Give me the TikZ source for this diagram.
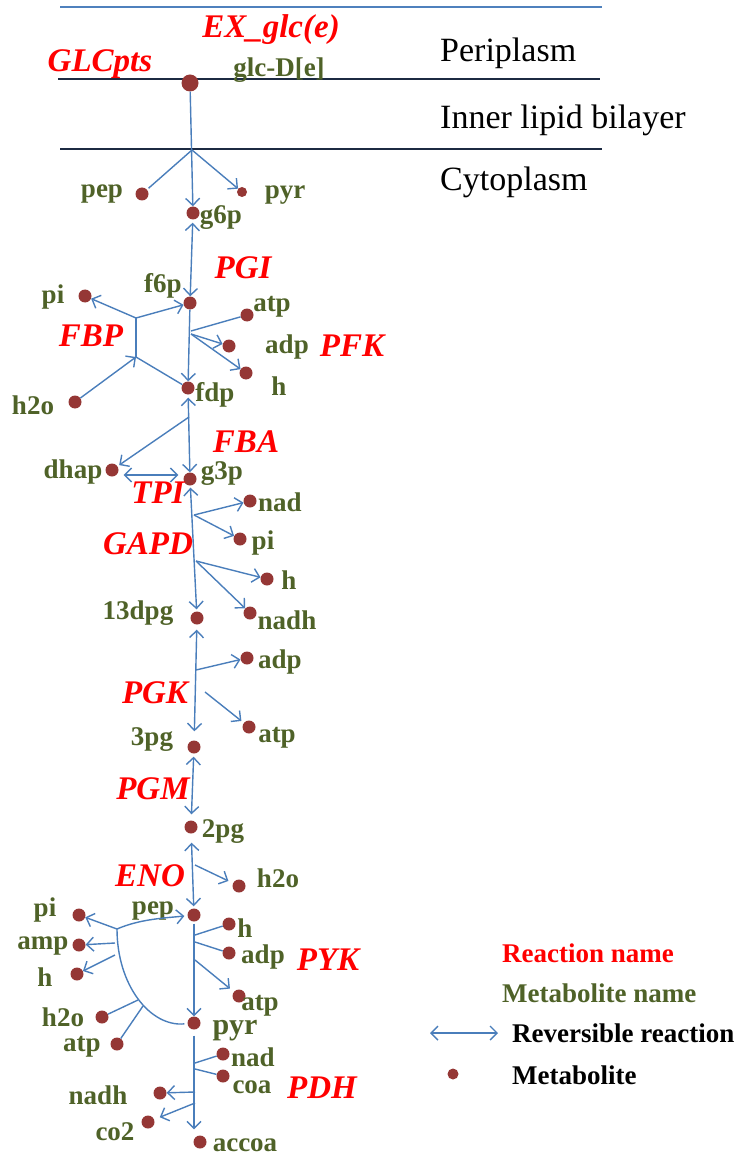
\documentclass[tikz,border=0pt]{standalone}
\usepackage{fontspec}
\setmainfont{Liberation Serif}
\usetikzlibrary{arrows.meta}
\definecolor{rxn}{RGB}{255,0,0}
\definecolor{met}{RGB}{79,98,40}
\definecolor{dotc}{RGB}{149,55,53}
\definecolor{arr}{RGB}{74,126,187}
\definecolor{memb}{RGB}{79,129,189}
\definecolor{membd}{RGB}{28,42,66}
\begin{document}
\begin{tikzpicture}[x=1pt,y=-1pt,
 mdot/.style={circle,fill=dotc,inner sep=0pt,minimum size=13pt},
 sdot/.style={mdot,minimum size=10pt},
 bdot/.style={mdot,minimum size=17pt},
 ldot/.style={mdot,minimum size=11pt},
 mname/.style={text=met,font=\fontsize{27}{27}\selectfont\bfseries,inner sep=0pt},
 rname/.style={text=rxn,font=\fontsize{33}{33}\selectfont\bfseries\itshape,inner sep=0pt},
 compname/.style={text=black,font=\fontsize{34}{34}\selectfont,inner sep=0pt,anchor=west},
 legtext/.style={font=\fontsize{27}{27}\selectfont\bfseries,inner sep=0pt,anchor=west},
 conn/.style={draw=arr,line width=1.4pt},
 fwd/.style={conn,-{Straight Barb[length=7pt,width=14pt]}},
 rev/.style={conn,{Straight Barb[length=7pt,width=14pt]}-{Straight Barb[length=7pt,width=14pt]}},
 membl/.style={line width=1.5pt}
]
\useasboundingbox (0,0) rectangle (741,1155);

% membranes
\draw[memb,membl] (60,7) -- (602,7);
\draw[membd,membl] (58,79) -- (600,79);
\draw[membd,membl] (60,149) -- (602,149);
\node[compname] (peri) at (440,53) {Periplasm};
\node[compname] (inner) at (440,120) {Inner lipid bilayer};
\node[compname] (cyto) at (440,182) {Cytoplasm};

% metabolite dots
\node[bdot] (glc) at (190,83) {};
\node[mdot] (pepA) at (142,194) {};
\node[sdot] (pyrA) at (242,192) {};
\node[mdot] (g6p) at (193,213) {};
\node[mdot] (f6p) at (190,303) {};
\node[mdot] (piA) at (85,296) {};
\node[mdot] (h2oA) at (75,402) {};
\node[mdot] (fdp) at (188,388) {};
\node[mdot] (atpA) at (247,315) {};
\node[mdot] (adpA) at (229,346) {};
\node[mdot] (hA) at (246,373) {};
\node[mdot] (dhap) at (112,470) {};
\node[mdot] (g3p) at (190,479) {};
\node[mdot] (nadA) at (250,501) {};
\node[mdot] (piB) at (240,539) {};
\node[mdot] (hB) at (267,579) {};
\node[mdot] (nadhA) at (250,613) {};
\node[mdot] (dpg) at (197,618) {};
\node[mdot] (adpB) at (247,658) {};
\node[mdot] (atpB) at (249,727) {};
\node[mdot] (pg3) at (194,747) {};
\node[mdot] (pg2) at (191,827) {};
\node[mdot] (h2oB) at (239,886) {};
\node[mdot] (pep) at (194,915) {};
\node[mdot] (hC) at (229,924) {};
\node[mdot] (adpC) at (229,953) {};
\node[mdot] (atpC) at (239,996) {};
\node[mdot] (pyr) at (194,1023) {};
\node[mdot] (piC) at (79,915) {};
\node[mdot] (amp) at (79,945) {};
\node[mdot] (hD) at (77,974) {};
\node[mdot] (h2oC) at (102,1017) {};
\node[mdot] (atpD) at (117,1044) {};
\node[mdot] (nadB) at (223,1054) {};
\node[mdot] (coa) at (223,1076) {};
\node[mdot] (nadhB) at (160,1093) {};
\node[mdot] (co2) at (148,1122) {};
\node[mdot] (accoa) at (200,1142) {};

% reaction names
\node[rname] (rEX) at (271,30) {EX\_glc(e)};
\node[rname] (rGLC) at (100,64) {GLCpts};
\node[rname] (rPGI) at (243,268) {PGI};
\node[rname] (rFBP) at (91,336) {FBP};
\node[rname] (rPFK) at (352,346) {PFK};
\node[rname] (rFBA) at (246,442) {FBA};
\node[rname] (rTPI) at (158,493) {TPI};
\node[rname] (rGAPD) at (148,544) {GAPD};
\node[rname] (rPGK) at (155,693) {PGK};
\node[rname] (rPGM) at (153,789) {PGM};
\node[rname] (rENO) at (150,876) {ENO};
\node[rname] (rPYK) at (328,960) {PYK};
\node[rname] (rPDH) at (322,1088) {PDH};

% metabolite names
\node[mname] (lglc) at (279,70) {glc-D[e]};
\node[mname] (lpepA) at (102,194) {pep};
\node[mname] (lpyrA) at (285,195) {pyr};
\node[mname] (lg6p) at (221,218) {g6p};
\node[mname] (lf6p) at (163,286) {f6p};
\node[mname] (lpiA) at (53,297) {pi};
\node[mname] (lh2oA) at (33,405) {h2o};
\node[mname] (lfdp) at (215,395) {fdp};
\node[mname] (latpA) at (272,307) {atp};
\node[mname] (ladpA) at (287,347) {adp};
\node[mname] (lhA) at (279,386) {h};
\node[mname] (ldhap) at (73,472) {dhap};
\node[mname] (lg3p) at (222,474) {g3p};
\node[mname] (lnadA) at (280,502) {nad};
\node[mname] (lpiB) at (263,543) {pi};
\node[mname] (lhB) at (289,580) {h};
\node[mname] (ldpg) at (138,613) {13dpg};
\node[mname] (lnadhA) at (287,620) {nadh};
\node[mname] (ladpB) at (280,662) {adp};
\node[mname] (lpg3) at (152,740) {3pg};
\node[mname] (latpB) at (277,738) {atp};
\node[mname] (lpg2) at (223,832) {2pg};
\node[mname] (lh2oB) at (278,878) {h2o};
\node[mname] (lpep) at (153,911) {pep};
\node[mname] (lpiC) at (45,910) {pi};
\node[mname] (lhC) at (245,928) {h};
\node[mname] (lamp) at (43,946) {amp};
\node[mname] (ladpC) at (263,957) {adp};
\node[mname] (lhD) at (45,977) {h};
\node[mname] (latpC) at (260,1006) {atp};
\node[mname] (lh2oC) at (63,1017) {h2o};
\node[mname,font=\fontsize{30}{30}\selectfont\bfseries] (lpyr) at (235,1031) {pyr};
\node[mname] (latpD) at (82,1047) {atp};
\node[mname] (lnadB) at (253,1057) {nad};
\node[mname] (lcoa) at (252,1087) {coa};
\node[mname] (lnadhB) at (98,1095) {nadh};
\node[mname] (lco2) at (115,1132) {co2};
\node[mname] (laccoa) at (245,1145) {accoa};

% GLCpts
\coordinate (ptsJ) at (192,150);
\draw[fwd] (glc) -- (g6p);
\draw[conn,shorten >=2pt] (ptsJ) -- (pepA);
\draw[fwd] (ptsJ) -- (pyrA);
% PGI
\draw[rev,shorten <=3pt] (g6p) -- (f6p);
% PFK
\coordinate (pfkJ1) at (191,331);
\coordinate (pfkJ2) at (191,334);
\draw[fwd] (f6p) -- (fdp);
\draw[conn] (pfkJ1) -- (atpA);
\draw[fwd] (pfkJ2) -- (adpA);
\draw[fwd] (pfkJ2) -- (hA);
% FBP
\coordinate (fbpT) at (136,318);
\coordinate (fbpB) at (136,357);
\draw[conn] (fbpT) -- (fbpB);
\draw[fwd] (fbpT) -- (f6p);
\draw[fwd] (fbpT) -- (piA);
\draw[conn] (fbpB) -- (fdp);
\draw[fwd] (h2oA) -- (fbpB);
% FBA
\coordinate (fbaJ) at (189,417);
\draw[rev,shorten <=3pt] (fdp) -- (g3p);
\draw[fwd,shorten >=2pt] (fbaJ) -- (dhap);
% TPI
\draw[rev] ([shift={(5,5)}]dhap.east) -- ([shift={(-5,-4)}]g3p.west);
% GAPD
\coordinate (gapdJ1) at (194,515);
\coordinate (gapdJ2) at (196,561);
\draw[rev,shorten <=2pt,shorten >=2pt] (g3p) -- (dpg);
\draw[fwd] (gapdJ1) -- (nadA);
\draw[fwd] (gapdJ1) -- (piB);
\draw[fwd] (gapdJ2) -- (hB);
\draw[fwd] (gapdJ2) -- (nadhA);
% PGK
\coordinate (pgkJ) at (196,670);
\coordinate (pgkS) at (205,692);
\draw[rev,shorten <=5pt,shorten >=9pt] (dpg) -- (pg3);
\draw[fwd] (pgkJ) -- (adpB);
\draw[fwd,shorten >=3pt] (pgkS) -- (atpB);
% PGM
\draw[rev,shorten <=3pt,shorten >=6pt] (pg3) -- (pg2);
% ENO
\coordinate (enoJ) at (195,865);
\draw[rev,shorten <=9pt,shorten >=2pt] (pg2) -- (pep);
\draw[fwd,shorten >=5pt] (enoJ) -- (h2oB);
% PYK
\coordinate (pykJ1) at (195,935);
\coordinate (pykJ2) at (195,942);
\coordinate (pykJ3) at (195,960);
\draw[fwd,shorten <=2pt] (pep) -- (pyr);
\draw[conn] (pykJ1) -- (hC);
\draw[conn] (pykJ2) -- (adpC);
\draw[fwd,shorten >=5pt] (pykJ3) -- (atpC);
% PPS
\coordinate (ppsJ) at (117,929);
\coordinate (ppsA) at (115,943);
\coordinate (ppsH) at (115,955);
\coordinate (ppsW) at (138,1000);
\coordinate (ppsT) at (143,1006);
\draw[fwd,shorten >=3pt] (ppsJ) .. controls (140,919) and (165,918) .. (pep);
\draw[conn,shorten >=3pt] (ppsJ) .. controls (117,985) and (150,1027) .. (pyr);
\draw[fwd] (ppsJ) -- (piC);
\draw[fwd] (ppsA) -- (amp);
\draw[fwd] (ppsH) -- (hD);
\draw[conn] (ppsW) -- (h2oC);
\draw[conn] (ppsT) -- (atpD);
% PDH
\coordinate (pdhJ1) at (195,1063);
\coordinate (pdhJ2) at (195,1069);
\coordinate (pdhJ3) at (195,1092);
\coordinate (pdhJ4) at (195,1103);
\draw[fwd,shorten <=6pt,shorten >=6pt] (pyr) -- (pyr |- accoa.north);
\draw[conn] (pdhJ1) -- (nadB);
\draw[conn] (pdhJ2) -- (coa);
\draw[fwd] (pdhJ3) -- (nadhB);
\draw[fwd,shorten >=6pt] (pdhJ4) -- (co2);

% legend
\coordinate (legA) at (430,1033);
\coordinate (legB) at (498,1033);
\node[legtext,text=rxn] (legR) at (502,953) {Reaction name};
\node[legtext,text=met] (legM) at (502,993) {Metabolite name};
\draw[rev] (legA) -- (legB);
\node[legtext] (legRev) at (512,1033) {Reversible reaction};
\node[ldot] (legdot) at (453,1074) {};
\node[legtext] (legMet) at (512,1075) {Metabolite};
\end{tikzpicture}
\end{document}
